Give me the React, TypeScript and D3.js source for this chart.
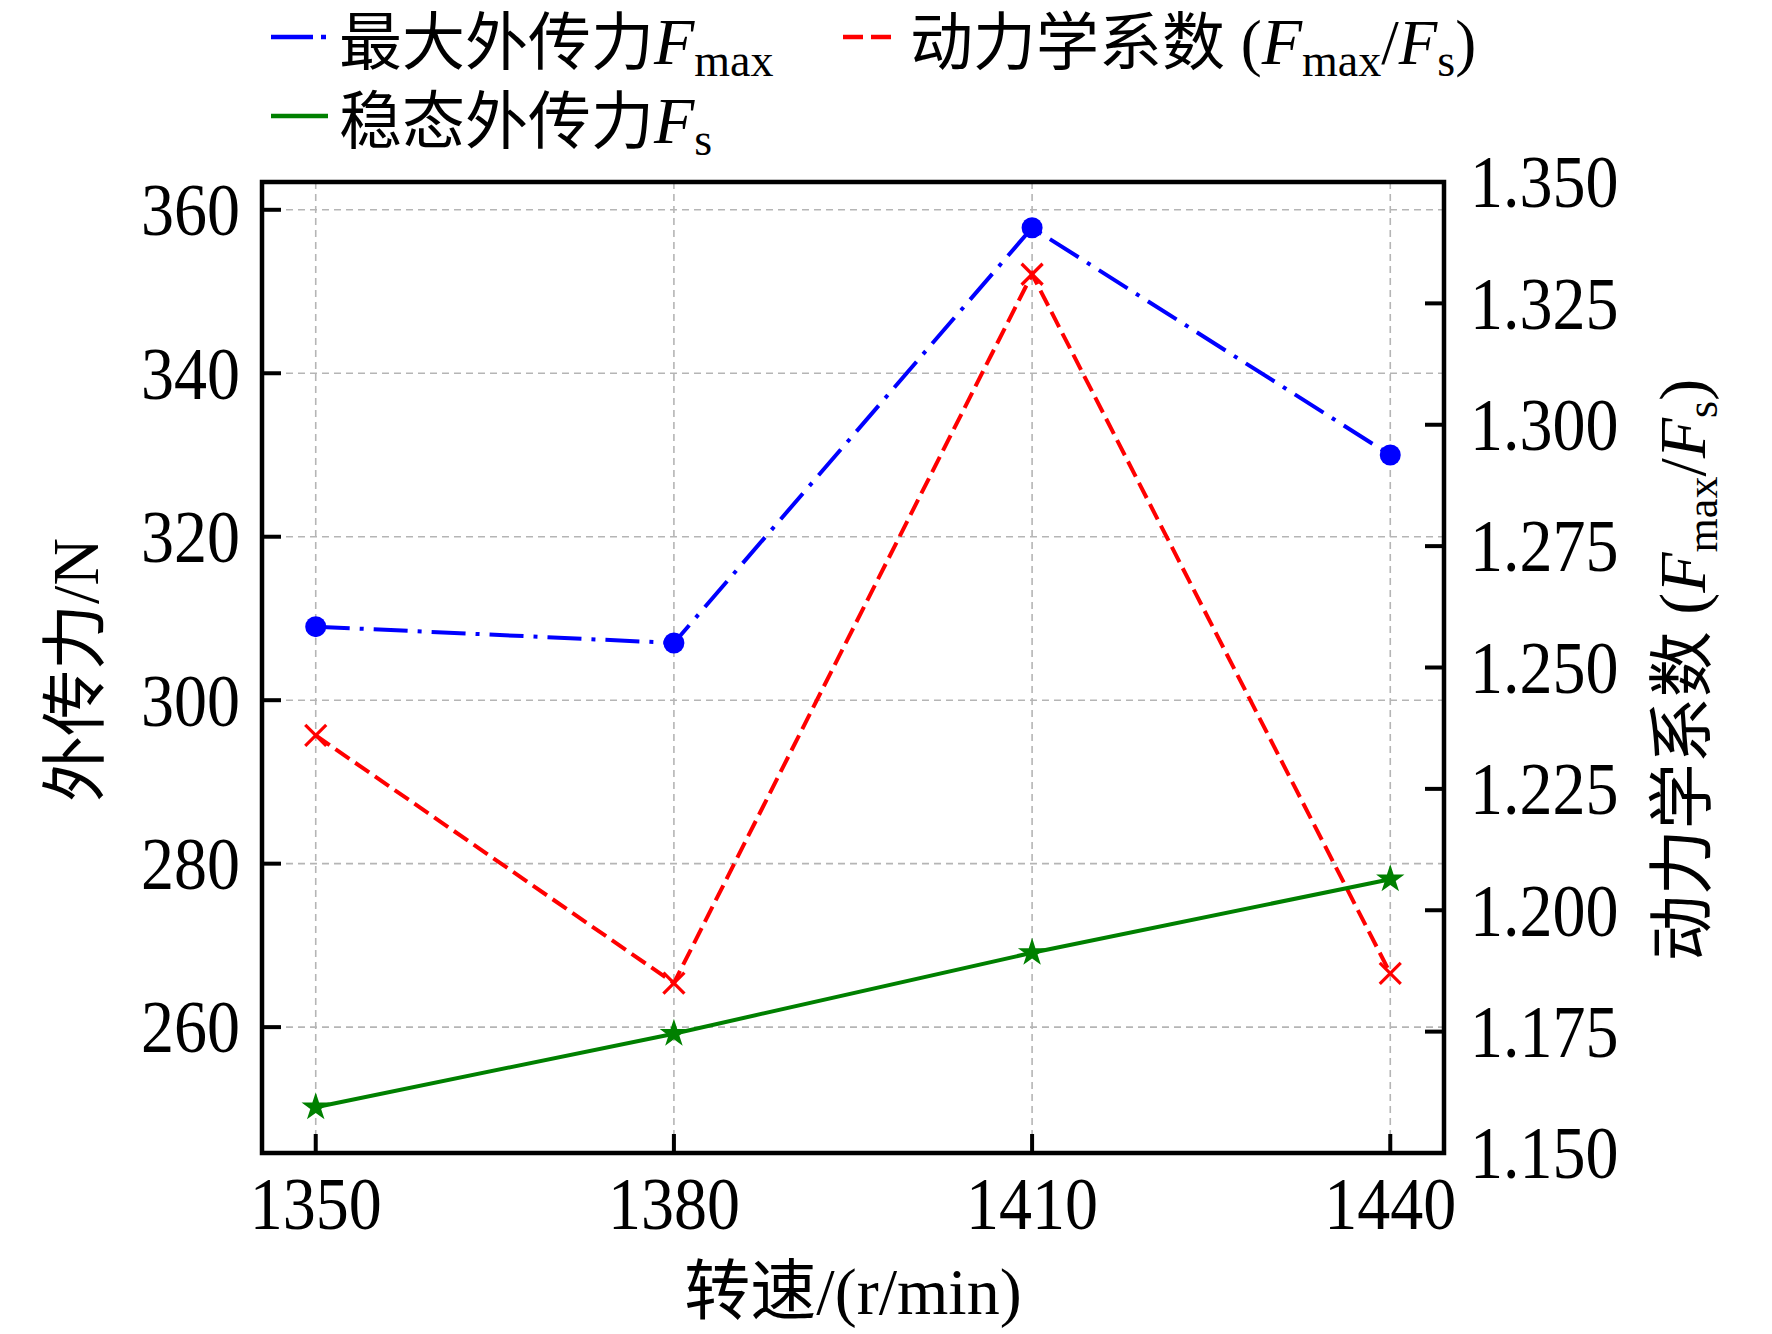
import * as d3 from 'd3';

const speeds = [1350, 1380, 1410, 1440];
const maxForce = [309.0, 307.0, 357.8, 330.0];
const steadyForce = [250.2, 259.2, 269.1, 278.1];
const dynCoef = [1.236, 1.185, 1.331, 1.187];
const leftTicks = [260, 280, 300, 320, 340, 360];
const rightTicks = [1.15, 1.175, 1.2, 1.225, 1.25, 1.275, 1.3, 1.325, 1.35];

const W = 1772;
const H = 1334;
const plot = { left: 262, right: 1444, top: 182, bottom: 1153 };
const FONT = '"Liberation Serif", "Times New Roman", "Noto Sans CJK SC", serif';
const FS = 66;
const STRETCH = 1.13; // tick digits in the source look slightly taller than wide

const BLUE = '#0000ff';
const RED = '#ff0000';
const GREEN = '#008000';

function T({ x, y, children, ...rest }: any) {
  return (
    <g transform={`translate(${x},${y}) scale(1,${STRETCH})`}>
      <text x={0} y={0} {...rest}>{children}</text>
    </g>
  );
}

export default function App() {
  const x = d3.scaleLinear().domain([1345.5, 1444.5]).range([plot.left, plot.right]);
  const yL = d3.scaleLinear().domain([244.6, 363.4]).range([plot.bottom, plot.top]);
  const yR = d3.scaleLinear().domain([1.15, 1.35]).range([plot.bottom, plot.top]);

  const maxPath = d3.line<number>().x((_, i) => x(speeds[i])).y((d) => yL(d))(maxForce) as string;
  const steadyPath = d3.line<number>().x((_, i) => x(speeds[i])).y((d) => yL(d))(steadyForce) as string;
  const coefPath = d3.line<number>().x((_, i) => x(speeds[i])).y((d) => yR(d))(dynCoef) as string;
  const star = d3.symbol(d3.symbolStar, 250)() as string;

  const tickLen = 19;
  const lw = 4;

  return (
    <svg width={W} height={H} style={{ position: 'absolute', left: 0, top: 0, background: '#fff' }}
      fontFamily={FONT}>
      {/* grid */}
      <g stroke="#b5b5b5" strokeWidth={1.6} strokeDasharray="7,5">
        {speeds.map((s) => (
          <line key={'gx' + s} x1={x(s)} x2={x(s)} y1={plot.top} y2={plot.bottom} />
        ))}
        {leftTicks.map((t) => (
          <line key={'gy' + t} x1={plot.left} x2={plot.right} y1={yL(t)} y2={yL(t)} />
        ))}
      </g>

      {/* data lines */}
      <path d={maxPath} fill="none" stroke={BLUE} strokeWidth={lw} strokeDasharray="34,10,4,10" />
      <path d={coefPath} fill="none" stroke={RED} strokeWidth={lw} strokeDasharray="17,7" />
      <path d={steadyPath} fill="none" stroke={GREEN} strokeWidth={lw} />

      {/* markers */}
      {maxForce.map((v, i) => (
        <circle key={'m' + i} cx={x(speeds[i])} cy={yL(v)} r={10.5} fill={BLUE} />
      ))}
      {dynCoef.map((v, i) => {
        const cx = x(speeds[i]);
        const cy = yR(v);
        const h = 10.5;
        return (
          <g key={'c' + i} stroke={RED} strokeWidth={3.2}>
            <line x1={cx - h} y1={cy - h} x2={cx + h} y2={cy + h} />
            <line x1={cx - h} y1={cy + h} x2={cx + h} y2={cy - h} />
          </g>
        );
      })}
      {steadyForce.map((v, i) => (
        <path key={'s' + i} d={star} transform={`translate(${x(speeds[i])},${yL(v)})`} fill={GREEN} />
      ))}

      {/* frame */}
      <rect x={plot.left} y={plot.top} width={plot.right - plot.left} height={plot.bottom - plot.top}
        fill="none" stroke="#000" strokeWidth={4.5} />

      {/* ticks */}
      <g stroke="#000" strokeWidth={4}>
        {speeds.map((s) => (
          <line key={'tx' + s} x1={x(s)} x2={x(s)} y1={plot.bottom} y2={plot.bottom - tickLen} />
        ))}
        {leftTicks.map((t) => (
          <line key={'tl' + t} x1={plot.left} x2={plot.left + tickLen} y1={yL(t)} y2={yL(t)} />
        ))}
        {rightTicks.map((t) => (
          <line key={'tr' + t} x1={plot.right} x2={plot.right - tickLen} y1={yR(t)} y2={yR(t)} />
        ))}
      </g>

      {/* tick labels */}
      <g fontSize={FS} fill="#000">
        {speeds.map((s) => (
          <T key={'lx' + s} x={x(s)} y={1229} textAnchor="middle">{s}</T>
        ))}
        {leftTicks.map((t) => (
          <T key={'ll' + t} x={240} y={yL(t) + FS * 0.34 * STRETCH} textAnchor="end">{t}</T>
        ))}
        {rightTicks.map((t) => (
          <T key={'lr' + t} x={1470} y={yR(t) + FS * 0.34 * STRETCH} textAnchor="start">{t.toFixed(3)}</T>
        ))}
      </g>

      {/* axis titles */}
      <text x={(plot.left + plot.right) / 2} y={1314} fontSize={FS} textAnchor="middle">转速/(r/min)</text>
      <text transform="translate(98,670) rotate(-90)" fontSize={FS} textAnchor="middle">外传力/N</text>
      <text transform="translate(1705,670) rotate(-90)" fontSize={FS} textAnchor="middle">
        动力学系数 (<tspan fontStyle="italic">F</tspan>
        <tspan fontSize={44} dy={12}>max</tspan>
        <tspan dy={-12}>/</tspan>
        <tspan fontStyle="italic">F</tspan>
        <tspan fontSize={44} dy={12}>s</tspan>
        <tspan dy={-12}>)</tspan>
      </text>

      {/* legend */}
      <g fontSize={63}>
        <line x1={271} x2={328} y1={37} y2={37} stroke={BLUE} strokeWidth={4.5} strokeDasharray="42,8,5,8" />
        <text x={339} y={64}>
          最大外传力<tspan fontStyle="italic" fontSize={FS}>F</tspan>
          <tspan fontSize={46} dy={12}>max</tspan>
        </text>
        <line x1={843} x2={894} y1={37} y2={37} stroke={RED} strokeWidth={4.5} strokeDasharray="20,8" />
        <text x={910} y={64}>
          动力学系数 (<tspan fontStyle="italic" fontSize={FS}>F</tspan>
          <tspan fontSize={46} dy={12}>max</tspan>
          <tspan dy={-12}>/</tspan>
          <tspan fontStyle="italic">F</tspan>
          <tspan fontSize={46} dy={12}>s</tspan>
          <tspan dy={-12}>)</tspan>
        </text>
        <line x1={271} x2={328} y1={116} y2={116} stroke={GREEN} strokeWidth={4.5} />
        <text x={339} y={143}>
          稳态外传力<tspan fontStyle="italic" fontSize={FS}>F</tspan>
          <tspan fontSize={46} dy={12}>s</tspan>
        </text>
      </g>
    </svg>
  );
}
